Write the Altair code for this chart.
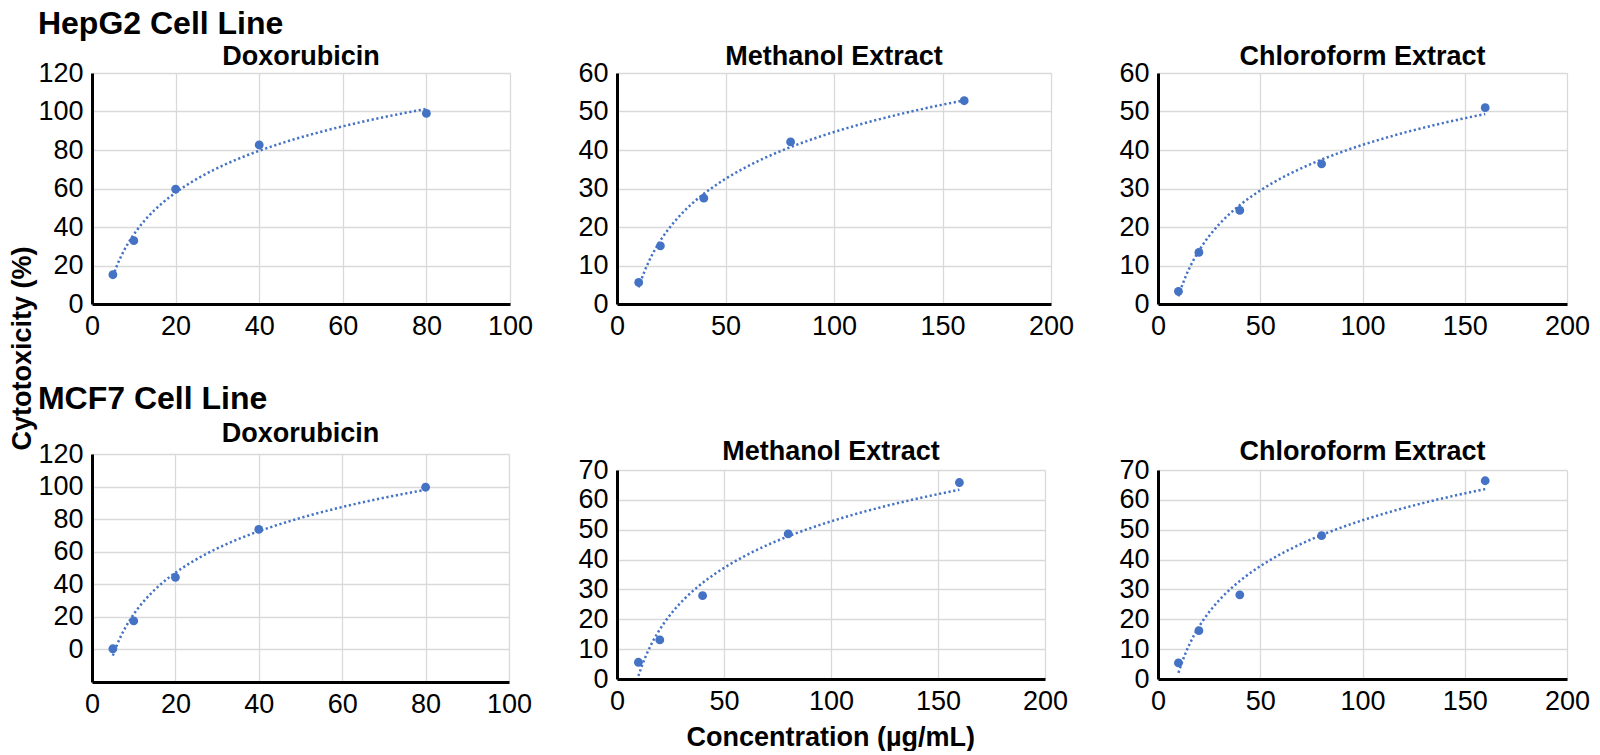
import altair as alt
import pandas as pd

FONT = "Liberation Sans"
BLUE = "#4472C4"

# ---- data ----
conc_dox = [5, 10, 20, 40, 80]
conc_ext = [10, 20, 40, 80, 160]

hepg2_dox = [15.2, 32.9, 59.7, 82.6, 99.0]
hepg2_meoh = [5.6, 15.1, 27.5, 42.1, 52.8]
hepg2_chcl3 = [3.3, 13.4, 24.3, 36.4, 51.0]

mcf7_dox = [0.4, 17.5, 44.3, 73.7, 99.6]
mcf7_meoh = [5.6, 13.1, 27.9, 48.6, 65.8]
mcf7_chcl3 = [5.4, 16.2, 28.2, 48.0, 66.4]

panel_titles = ["Doxorubicin", "Methanol Extract", "Chloroform Extract"]
row_titles = ["HepG2 Cell Line", "MCF7 Cell Line"]
x_title = "Concentration (µg/mL)"
y_title = "Cytotoxicity (%)"

LABEL = 27
PTITLE = 27
RTITLE = 32
ATITLE = 27


def panel(xs, ys, title, xmax, xstep, ymin, ymax, ystep, w, h, toffset):
    df = pd.DataFrame({"x": xs, "y": ys})
    xvals = list(range(0, xmax + 1, xstep))
    yvals = list(range(0, ymax + 1, ystep))
    xenc = alt.X("x:Q", scale=alt.Scale(domain=[0, xmax], nice=False, zero=False),
                 axis=alt.Axis(values=xvals, title=None))
    yenc = alt.Y("y:Q", scale=alt.Scale(domain=[ymin, ymax], nice=False, zero=False),
                 axis=alt.Axis(values=yvals, title=None))
    base = alt.Chart(df)
    trend = base.transform_regression("x", "y", method="log").mark_line(
        color=BLUE, strokeDash=[2.2, 2.6], strokeWidth=2.5, clip=True
    ).encode(x=xenc, y=yenc)
    pts = base.mark_circle(size=78, color=BLUE, opacity=1).encode(x=xenc, y=yenc)
    return alt.layer(trend, pts).properties(
        width=w, height=h,
        title=alt.TitleParams(title, fontSize=PTITLE, font=FONT, fontWeight="bold", color="black",
                              baseline="alphabetic", offset=toffset, anchor="middle"),
    )


p11 = panel(conc_dox, hepg2_dox, panel_titles[0], 100, 20, 0, 120, 20, 418, 231, -33)
p12 = panel(conc_ext, hepg2_meoh, panel_titles[1], 200, 50, 0, 60, 10, 434, 231, -33)
p13 = panel(conc_ext, hepg2_chcl3, panel_titles[2], 200, 50, 0, 60, 10, 409, 231, -33)

p21 = panel(conc_dox, mcf7_dox, panel_titles[0], 100, 20, -20, 120, 20, 417, 228, -29)
p22 = panel(conc_ext, mcf7_meoh, panel_titles[1], 200, 50, 0, 70, 10, 428, 209, -31)
p23 = panel(conc_ext, mcf7_chcl3, panel_titles[2], 200, 50, 0, 70, 10, 409, 209, -31)

mcf7_block = alt.vconcat(p21, title=alt.TitleParams(row_titles[1], anchor="start", fontSize=RTITLE,
                                                    font=FONT, fontWeight="bold", color="black",
                                                    baseline="alphabetic", offset=-21))

col1 = alt.vconcat(p11, mcf7_block, spacing=44)
col2 = alt.vconcat(p12, p22, spacing=99)
col3 = alt.vconcat(p13, p23, spacing=99)

grid = alt.hconcat(col1, col2, col3, spacing=44,
                   title=alt.TitleParams(row_titles[0], anchor="start", fontSize=RTITLE, font=FONT,
                                         fontWeight="bold", color="black", baseline="alphabetic",
                                         offset=-23))

with_x = alt.vconcat(grid, title=alt.TitleParams(x_title, orient="bottom", anchor="middle",
                                                 fontSize=ATITLE, font=FONT, fontWeight="bold",
                                                 color="black", baseline="top", offset=8, dx=17))

chart = alt.hconcat(with_x, title=alt.TitleParams(y_title, orient="left", anchor="middle",
                                                  fontSize=ATITLE, font=FONT, fontWeight="bold",
                                                  color="black", offset=1, dx=31)
).properties(
    padding={"left": 0, "top": 0, "right": 0, "bottom": 0}
).configure_axis(
    domainColor="black", domainWidth=3, gridColor="#d9d9d9", gridWidth=1.3, grid=True,
    ticks=False, labelFont=FONT, labelFontSize=LABEL, labelColor="black", labelPadding=9,
    labelOverlap=False, labelFlush=False
).configure_view(stroke=None).configure_title(font=FONT, color="black")

chart.save("out.html", embed_options={"renderer": "svg", "actions": False})
